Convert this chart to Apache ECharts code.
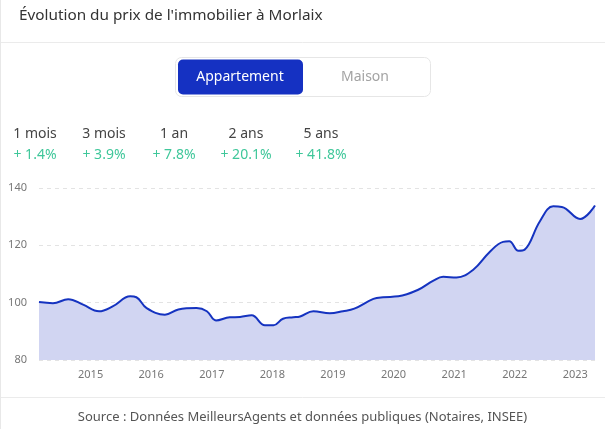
<!DOCTYPE html>
<html>
<head>
<meta charset="utf-8">
<script src="https://cdn.jsdelivr.net/npm/echarts@6/dist/echarts.min.js"></script>
<style>
html,body{margin:0;padding:0;background:#fff;}
#chart{width:605px;height:429px;}
</style>
</head>
<body>
<div id="chart"></div>
<script>
var dates = ['2014-02-24','2014-05-19','2014-08-19','2014-11-17','2015-02-21','2015-05-14','2015-08-28','2015-10-04','2015-12-05',
 '2016-03-24','2016-06-13','2016-10-01','2016-12-02','2017-01-26','2017-04-19','2017-06-20','2017-08-29','2017-11-17',
 '2018-01-08','2018-03-06','2018-05-07','2018-06-17','2018-09-05','2018-12-13','2019-03-02','2019-05-10','2019-09-02',
 '2019-10-30','2020-01-30','2020-05-29','2020-08-29','2020-10-27','2021-01-15','2021-04-26','2021-08-03','2021-10-23',
 '2021-11-29','2022-01-23','2022-03-02','2022-06-02','2022-08-21','2022-10-12','2023-01-30','2023-04-30'];
var prices = [100.2,99.8,101.2,99.3,97.0,98.7,102.2,101.9,98.1,
 95.8,97.6,98.1,97.0,93.8,94.9,95.0,95.6,92.1,
 92.1,94.4,94.9,95.2,97.0,96.3,97.0,97.9,101.3,
 101.9,102.2,104.5,107.7,109.0,108.8,111.5,117.7,121.2,
 121.4,118.1,118.5,128.4,133.6,133.4,129.2,133.9];
var yearTicks = [2015,2016,2017,2018,2019,2020,2021,2022,2023];
var yTicks = [80,100,120,140];
var periods = ['1 mois','3 mois','1 an','2 ans','5 ans'];
var changes = ['+ 1.4%','+ 3.9%','+ 7.8%','+ 20.1%','+ 41.8%'];
var titleText = "Évolution du prix de l'immobilier à Morlaix";
var tabs = ['Appartement','Maison'];
var sourceText = 'Source : Données MeilleursAgents et données publiques (Notaires, INSEE)';

var FONT = '"Noto Sans", "Open Sans", sans-serif';
var chart = echarts.init(document.getElementById('chart'), null, {renderer:'canvas'});
function ts(d){ var p = d.split('-'); return Date.UTC(+p[0], +p[1]-1, +p[2]); }
var seriesData = dates.map(function(d,i){ return [ts(d), prices[i]]; });
var statCenters = [35,104,174,246,321];

var graphics = [
  {type:'line', shape:{x1:0,y1:42.5,x2:605,y2:42.5}, style:{stroke:'#ebebeb',lineWidth:1}, silent:true},
  {type:'line', shape:{x1:0,y1:397.5,x2:605,y2:397.5}, style:{stroke:'#ebebeb',lineWidth:1}, silent:true},
  {type:'line', shape:{x1:0.5,y1:0,x2:0.5,y2:429}, style:{stroke:'#e8e8e8',lineWidth:1}, silent:true},
  {type:'text', left:19, top:8, style:{text:titleText, font:'15.3px '+FONT, fill:'#333'}},
  {type:'rect', shape:{x:175.5,y:57.5,width:255,height:39,r:6}, style:{fill:'#fff',stroke:'#e6e6e6',lineWidth:1}},
  {type:'rect', shape:{x:178,y:59.5,width:125,height:35,r:5}, style:{fill:'#1531c2'}},
  {type:'text', x:240, y:77, style:{text:tabs[0], font:'14px '+FONT, fill:'#fff', align:'center', verticalAlign:'middle'}},
  {type:'text', x:365, y:77, style:{text:tabs[1], font:'14px '+FONT, fill:'#a3a3a3', align:'center', verticalAlign:'middle'}},
  {type:'text', x:302.5, y:417, style:{text:sourceText, font:'13px '+FONT, fill:'#555', align:'center', verticalAlign:'middle'}}
];
periods.forEach(function(p,i){
  graphics.push({type:'text', x:statCenters[i], y:134, style:{text:p, font:'14px '+FONT, fill:'#444', align:'center', verticalAlign:'middle'}});
  graphics.push({type:'text', x:statCenters[i], y:155, style:{text:changes[i], font:'14px '+FONT, fill:'#3fc79a', align:'center', verticalAlign:'middle'}});
});

chart.setOption({
  animation:false,
  grid:{left:39, right:10, top:188, bottom:69, containLabel:false},
  xAxis:{
    type:'value', min:seriesData[0][0], max:seriesData[seriesData.length-1][0],
    axisLine:{show:false}, axisTick:{show:false}, splitLine:{show:false},
    axisLabel:{
      customValues: yearTicks.map(function(y){ return Date.UTC(y,0,1); }),
      formatter:function(v){ return String(new Date(v).getUTCFullYear()); },
      color:'#777', fontSize:11, fontFamily:FONT, margin:9,
      showMinLabel:true, showMaxLabel:true, hideOverlap:false
    }
  },
  yAxis:{
    type:'value', min:yTicks[0], max:yTicks[yTicks.length-1], interval:20,
    axisLine:{show:false}, axisTick:{show:false},
    axisLabel:{color:'#777', fontSize:11, fontFamily:FONT, margin:12},
    splitLine:{show:true, lineStyle:{color:'#e3e3e3', type:[4,4], width:1}}
  },
  series:[{
    type:'line', data:seriesData, smooth:0.4, showSymbol:false,
    lineStyle:{color:'#1533c0', width:2},
    areaStyle:{color:'#d1d5f2', opacity:1}
  }],
  graphic:graphics
});
</script>
</body>
</html>
